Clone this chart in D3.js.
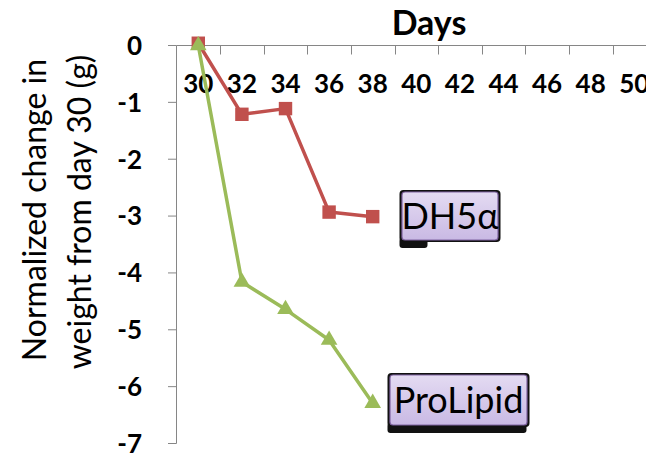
<!DOCTYPE html>
<html><head><meta charset="utf-8">
<script src="https://cdn.jsdelivr.net/npm/d3@7"></script>
<style>
html,body{margin:0;padding:0;background:#fff;}
svg{display:block;}
text{font-family:Lato,"DejaVu Sans",sans-serif;fill:#000;}
</style></head>
<body>
<svg id="chart" width="646" height="458"></svg>
<script>
const days = ["30","32","34","36","38","40","42","44","46","48","50"];
const dh5aDays = ["30","32","34","36","38"];
const dh5aValues = [0.04, -1.21, -1.11, -2.93, -3.01];
const prolipidDays = ["30","32","34","36","38"];
const prolipidValues = [0, -4.16, -4.64, -5.18, -6.29];
const yTicks = [0,-1,-2,-3,-4,-5,-6,-7];
const seriesNames = ["DH5α","ProLipid"];
const seriesColors = ["#c0504d","#9bbb59"];

const svg = d3.select("#chart");
const axisColor = "#868686";

const x = d3.scaleBand().domain(days).range([176.5, 176.5 + 11*43.6]).padding(0);
const y = d3.scaleLinear().domain([-7, 0]).range([443.5, 45.5]);
const cx = d => x(d) + x.bandwidth()/2;

// Y axis
const yAxis = svg.append("g");
yAxis.append("line").attr("x1",176.5).attr("x2",176.5).attr("y1",y(0)).attr("y2",y(-7))
  .attr("stroke",axisColor).attr("stroke-width",1);
yAxis.selectAll("line.t").data(yTicks).enter().append("line").attr("class","t")
  .attr("x1",168).attr("x2",176.5).attr("y1",d=>y(d)).attr("y2",d=>y(d))
  .attr("stroke",axisColor).attr("stroke-width",1);
yAxis.selectAll("text").data(yTicks).enter().append("text")
  .attr("x",142).attr("y",d=>y(d)).attr("dy","0.36em").attr("text-anchor","end")
  .attr("font-size",26).attr("font-weight",700).text(d=>d===0?"0":"-"+Math.abs(d));

// X axis at y=0
const xAxis = svg.append("g");
xAxis.append("line").attr("x1",176.5).attr("x2",646).attr("y1",y(0)).attr("y2",y(0))
  .attr("stroke",axisColor).attr("stroke-width",1);
xAxis.selectAll("line.t").data(days).enter().append("line").attr("class","t")
  .attr("x1",d=>Math.round(x(d)+x.bandwidth())+0.5).attr("x2",d=>Math.round(x(d)+x.bandwidth())+0.5)
  .attr("y1",y(0)).attr("y2",y(0)+9)
  .attr("stroke",axisColor).attr("stroke-width",1);
xAxis.selectAll("text").data(days).enter().append("text")
  .attr("x",d=>cx(d)).attr("y",93).attr("text-anchor","middle")
  .attr("font-size",26).attr("font-weight",700).text(d=>d);

// Titles
svg.append("text").attr("x",429).attr("y",35).attr("text-anchor","middle")
  .attr("font-size",34).attr("font-weight",700).text("Days");
const yt = svg.append("g").attr("transform","translate(0,210) rotate(-90)");
yt.append("text").attr("x",0).attr("y",46).attr("text-anchor","middle").attr("font-size",32).text("Normalized change in");
yt.append("text").attr("x",-2).attr("y",91).attr("text-anchor","middle").attr("font-size",32).text("weight from day 30 (g)");

// Lines
const series = [
  {name:seriesNames[0], days:dh5aDays, values:dh5aValues, color:seriesColors[0], marker:"square"},
  {name:seriesNames[1], days:prolipidDays, values:prolipidValues, color:seriesColors[1], marker:"triangle"}
];
const line = d3.line().x(d=>cx(d.day)).y(d=>y(d.v));
series.forEach(s=>{
  const pts = s.days.map((d,i)=>({day:d, v:s.values[i]}));
  const g = svg.append("g");
  g.append("path").datum(pts).attr("d",line).attr("fill","none")
    .attr("stroke",s.color).attr("stroke-width",3.5).attr("stroke-linejoin","round");
  const sym = d3.symbol().type(s.marker==="square"?d3.symbolSquare:d3.symbolTriangle)
    .size(s.marker==="square"?180:120);
  g.selectAll("path.m").data(pts).enter().append("path").attr("class","m")
    .attr("transform",d=>`translate(${cx(d.day)},${y(d.v)})`)
    .attr("d",sym).attr("fill",s.color);
});

// Callouts
const defs = svg.append("defs");
const grad = defs.append("linearGradient").attr("id","lav").attr("x1",0).attr("y1",0).attr("x2",0).attr("y2",1);
grad.append("stop").attr("offset","0%").attr("stop-color","#e4dbf2");
grad.append("stop").attr("offset","100%").attr("stop-color","#c9b9e4");

function callout(label, bx, by, bw, bh, stubW, fs){
  const g = svg.append("g");
  g.append("rect").attr("x",bx-2.5).attr("y",by-2).attr("width",bw+5).attr("height",bh+4).attr("rx",4).attr("fill","#111");
  g.append("rect").attr("x",bx-2.5).attr("y",by+bh-2).attr("width",stubW).attr("height",10).attr("rx",3).attr("fill","#111");
  g.append("rect").attr("x",bx).attr("y",by).attr("width",bw).attr("height",bh).attr("rx",3)
    .attr("fill","url(#lav)").attr("stroke","#8064a2").attr("stroke-width",1.2);
  g.append("text").attr("x",bx+bw/2).attr("y",by+bh/2).attr("dy","0.36em").attr("text-anchor","middle")
    .attr("font-size",fs).text(label);
}
callout(seriesNames[0], 402, 192, 96, 48, 28, 36);
callout(seriesNames[1], 390, 375, 137, 50, 139, 36);
</script>
</body></html>
